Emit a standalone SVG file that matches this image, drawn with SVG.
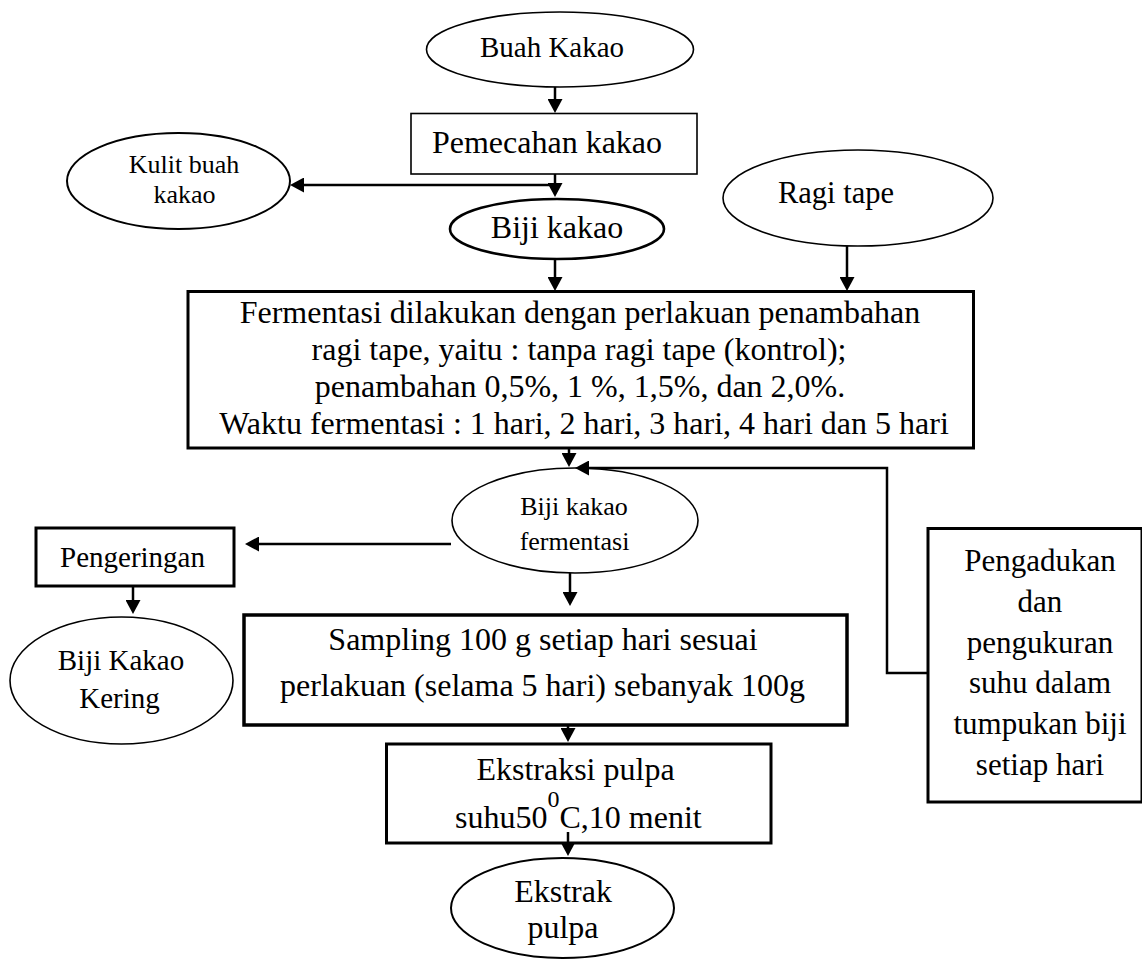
<svg xmlns="http://www.w3.org/2000/svg" width="1142" height="962" viewBox="0 0 1142 962">
<style>
text{font-family:"Liberation Serif","Times New Roman",serif;fill:#000;text-anchor:middle}
.sh{fill:#fff;stroke:#000}
.c{fill:none;stroke:#000;stroke-width:2.5}
</style>
<defs>
<marker id="ah" viewBox="0 0 14 15" refX="10" refY="7.5" markerWidth="14" markerHeight="15" markerUnits="userSpaceOnUse" orient="auto"><path d="M0,0 L14,7.5 L0,15 Z" fill="#000"/></marker>
</defs>
<rect width="1142" height="962" fill="#fff"/>
<g id="buah-kakao"><ellipse class="sh" cx="560" cy="49.5" rx="133.5" ry="37.5" stroke-width="1.6"/><text x="552" y="57" font-size="29">Buah Kakao</text></g>
<g id="pemecahan"><rect class="sh" x="411" y="113.5" width="286" height="60.5" stroke="#333" stroke-width="1.6"/><text x="547" y="153" font-size="32">Pemecahan kakao</text></g>
<g id="kulit"><ellipse class="sh" cx="178.5" cy="181" rx="111.5" ry="48" stroke-width="2"/><text x="184" y="173" font-size="26">Kulit buah</text><text x="184.5" y="203" font-size="26">kakao</text></g>
<g id="biji-kakao"><ellipse class="sh" cx="557" cy="229" rx="107" ry="30" stroke-width="2.6"/><text x="557" y="238" font-size="32">Biji kakao</text></g>
<g id="ragi-tape"><ellipse class="sh" cx="858" cy="198" rx="135" ry="48" stroke-width="1.6"/><text x="836" y="203" font-size="30.5">Ragi tape</text></g>
<g id="fermentasi"><rect class="sh" x="188" y="291.5" width="785.5" height="156.5" stroke-width="3"/>
<text x="580" y="323" font-size="32">Fermentasi dilakukan dengan perlakuan penambahan</text>
<text x="579" y="360" font-size="32">ragi tape, yaitu : tanpa ragi tape (kontrol);</text>
<text x="580" y="397" font-size="32">penambahan 0,5%, 1 %, 1,5%, dan 2,0%.</text>
<text x="584" y="434" font-size="32">Waktu fermentasi : 1 hari, 2 hari, 3 hari, 4 hari dan 5 hari</text></g>
<g id="biji-fermentasi"><ellipse class="sh" cx="575" cy="520.5" rx="123" ry="52.5" stroke-width="1.6"/><text x="574" y="515" font-size="26">Biji kakao</text><text x="574.5" y="550" font-size="26">fermentasi</text></g>
<g id="pengeringan"><rect class="sh" x="36" y="528" width="198" height="58" stroke-width="3"/><text x="132.5" y="567" font-size="29">Pengeringan</text></g>
<g id="biji-kering"><ellipse class="sh" cx="121.5" cy="680.5" rx="111.5" ry="63.5" stroke-width="1.6"/><text x="121" y="670" font-size="29">Biji Kakao</text><text x="119.5" y="708" font-size="29">Kering</text></g>
<g id="sampling"><rect class="sh" x="244" y="615" width="603" height="110" stroke-width="3.5"/><text x="543" y="650" font-size="32">Sampling 100 g setiap hari sesuai</text><text x="542.5" y="696" font-size="32">perlakuan (selama 5 hari) sebanyak 100g</text></g>
<g id="ekstraksi"><rect class="sh" x="386.5" y="744" width="384.5" height="99" stroke-width="3"/><text x="575.5" y="780" font-size="32">Ekstraksi pulpa</text><text x="455" y="828" font-size="32" style="text-anchor:start">suhu50<tspan font-size="24" dy="-21">0</tspan><tspan dy="21">C,10 menit</tspan></text></g>
<g id="ekstrak-pulpa"><ellipse class="sh" cx="562.5" cy="908" rx="111.5" ry="50" stroke-width="2"/><text x="563" y="902" font-size="32">Ekstrak</text><text x="563" y="938" font-size="32">pulpa</text></g>
<g id="pengadukan"><rect class="sh" x="928" y="528.5" width="214" height="273.5" stroke-width="3"/>
<text x="1040" y="571" font-size="31">Pengadukan</text>
<text x="1040" y="612" font-size="31">dan</text>
<text x="1040" y="653" font-size="31">pengukuran</text>
<text x="1040" y="693" font-size="31">suhu dalam</text>
<text x="1040" y="734" font-size="31">tumpukan biji</text>
<text x="1040" y="775" font-size="31">setiap hari</text></g>
<g id="connectors">
<path class="c" d="M555,87 V109" marker-end="url(#ah)"/>
<path class="c" d="M555,174 V193" marker-end="url(#ah)"/>
<path class="c" d="M555,185 H294" marker-end="url(#ah)"/>
<path class="c" d="M555,259 V287" marker-end="url(#ah)"/>
<path class="c" d="M847,246 V287" marker-end="url(#ah)"/>
<path class="c" d="M569,448 V463" marker-end="url(#ah)"/>
<path class="c" d="M928,673 H887 V468 H579" marker-end="url(#ah)"/>
<path class="c" d="M451,544 H249" marker-end="url(#ah)"/>
<path class="c" d="M570,573 V602" marker-end="url(#ah)"/>
<path class="c" d="M133,586 V610" marker-end="url(#ah)"/>
<path class="c" d="M568,724 V738" marker-end="url(#ah)"/>
<path class="c" d="M568,832 V852" marker-end="url(#ah)"/>
</g>
</svg>
